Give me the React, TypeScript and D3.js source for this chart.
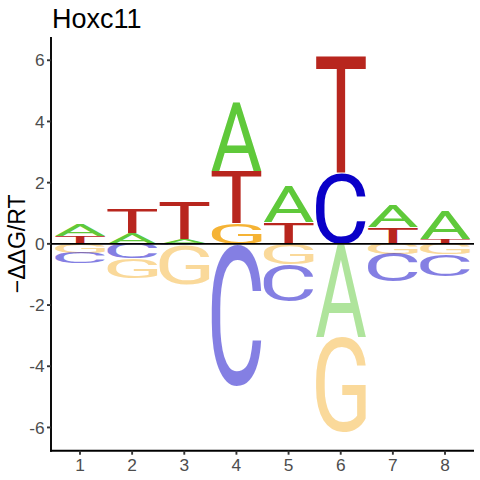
import React, { useEffect, useMemo, useState } from 'react';
import * as d3 from 'd3';

// ---- data ----
const positions = [1, 2, 3, 4, 5, 6, 7, 8];
const letters = ['A', 'C', 'G', 'T'];
const valA = [0.40, 0.35, 0.15, 2.28, 1.16, -3.06, 0.75, 0.93];
const valC = [-0.35, -0.47, -0.04, -4.64, -1.21, 2.31, -0.91, -0.73];
const valG = [-0.29, -0.64, -1.30, 0.67, -0.66, -3.10, -0.33, -0.33];
const valT = [0.24, 0.77, 1.21, 1.68, 0.70, 3.83, 0.53, 0.16];
const yTicks = [-6, -4, -2, 0, 2, 4, 6];
const xTickLabels = ['1', '2', '3', '4', '5', '6', '7', '8'];
const title = 'Hoxc11';
const yLabel = '\u2212\u0394\u0394G/RT';

const colors: Record<string, string> = {
  A: '#5FC93A',
  C: '#0A00C8',
  G: '#F5B335',
  T: '#B8261E',
};

const W = 480;
const H = 480;
const panel = { left: 51, right: 474, top: 37, bottom: 450.7 };
const LETTER_FAMILY = 'Roboto';
const LETTER_WEIGHT = 400;
const LETTER_SIZE = 200;
const AXIS_FONT = '"Liberation Sans", Arial, sans-serif';

type Box = { l: number; r: number; a: number; d: number };

function measureLetters(): Record<string, Box> {
  const out: Record<string, Box> = {};
  const canvas = document.createElement('canvas');
  const ctx = canvas.getContext('2d');
  for (const L of letters) {
    if (ctx) {
      ctx.font = `${LETTER_WEIGHT} ${LETTER_SIZE}px ${LETTER_FAMILY}`;
      const m = ctx.measureText(L);
      out[L] = {
        l: m.actualBoundingBoxLeft,
        r: m.actualBoundingBoxRight,
        a: m.actualBoundingBoxAscent,
        d: m.actualBoundingBoxDescent,
      };
    } else {
      out[L] = { l: 0, r: 0.65 * LETTER_SIZE, a: 0.71 * LETTER_SIZE, d: 0 };
    }
  }
  return out;
}

export default function App() {
  const [fontTick, setFontTick] = useState(0);
  useEffect(() => {
    const f: any = (document as any).fonts;
    if (f && f.load) {
      f.load(`${LETTER_WEIGHT} ${LETTER_SIZE}px ${LETTER_FAMILY}`).then(() => setFontTick((t) => t + 1));
    }
  }, []);
  const boxes = useMemo(() => measureLetters(), [fontTick]);

  const x = d3.scaleLinear().domain([0.444, 8.556]).range([panel.left, panel.right]);
  const y = d3.scaleLinear().domain([-6.76, 6.76]).range([panel.bottom, panel.top]);

  const series: Record<string, number[]> = { A: valA, C: valC, G: valG, T: valT };

  const glyphs: { key: string; L: string; x0: number; x1: number; y0: number; y1: number; neg: boolean }[] = [];
  positions.forEach((p, i) => {
    const entries = letters.map((L) => ({ L, v: series[L][i] }));
    const pos = entries.filter((e) => e.v > 0).sort((a, b) => a.v - b.v);
    const neg = entries.filter((e) => e.v < 0).sort((a, b) => b.v - a.v);
    let acc = 0;
    pos.forEach((e) => {
      glyphs.push({ key: `p${p}${e.L}`, L: e.L, x0: x(p - 0.48), x1: x(p + 0.48), y0: y(acc + e.v), y1: y(acc), neg: false });
      acc += e.v;
    });
    acc = 0;
    neg.forEach((e) => {
      glyphs.push({ key: `n${p}${e.L}`, L: e.L, x0: x(p - 0.48), x1: x(p + 0.48), y0: y(acc), y1: y(acc + e.v), neg: true });
      acc += e.v;
    });
  });

  const midY = (panel.top + panel.bottom) / 2;

  return (
    <svg width={W} height={H} style={{ position: 'absolute', left: 0, top: 0, background: '#fff' }}>
      <rect x={0} y={0} width={W} height={H} fill="#fff" />
      {glyphs.map((g) => {
        const b = boxes[g.L];
        const w = g.x1 - g.x0;
        const h = g.y1 - g.y0;
        if (h <= 0.01) return null;
        const sx = w / (b.l + b.r);
        const sy = h / (b.a + b.d);
        const tx = g.x0 + b.l * sx;
        const ty = g.y0 + b.a * sy;
        return (
          <text
            key={g.key}
            x={0}
            y={0}
            fontFamily={LETTER_FAMILY}
            fontWeight={LETTER_WEIGHT}
            fontSize={LETTER_SIZE}
            fill={colors[g.L]}
            fillOpacity={g.neg ? 0.5 : 1}
            transform={`translate(${tx},${ty}) scale(${sx},${sy})`}
          >
            {g.L}
          </text>
        );
      })}
      {/* zero line */}
      <line x1={panel.left} x2={panel.right} y1={y(0)} y2={y(0)} stroke="#000" strokeWidth={1.6} />
      {/* axes */}
      <line x1={panel.left} x2={panel.left} y1={panel.top} y2={panel.bottom + 1} stroke="#000" strokeWidth={1.9} />
      <line x1={panel.left - 1} x2={panel.right} y1={panel.bottom} y2={panel.bottom} stroke="#000" strokeWidth={1.9} />
      {yTicks.map((t) => (
        <g key={`y${t}`}>
          <line x1={panel.left - 4} x2={panel.left} y1={y(t)} y2={y(t)} stroke="#333" strokeWidth={1.9} />
          <text x={panel.left - 6.5} y={y(t) + 6.2} textAnchor="end" fontFamily={AXIS_FONT} fontSize={17.3} fill="#4D4D4D">
            {t < 0 ? `-${Math.abs(t)}` : `${t}`}
          </text>
        </g>
      ))}
      {positions.map((p, i) => (
        <g key={`x${p}`}>
          <line x1={x(p)} x2={x(p)} y1={panel.bottom} y2={panel.bottom + 4} stroke="#333" strokeWidth={1.9} />
          <text x={x(p)} y={470.5} textAnchor="middle" fontFamily={AXIS_FONT} fontSize={17.3} fill="#4D4D4D">
            {xTickLabels[i]}
          </text>
        </g>
      ))}
      <text x={52} y={27.5} fontFamily={AXIS_FONT} fontSize={27} fill="#000">
        {title}
      </text>
      <text
        x={25.5}
        y={midY}
        textAnchor="middle"
        fontFamily={AXIS_FONT}
        fontSize={23}
        fill="#000"
        transform={`rotate(-90, 25.5, ${midY})`}
      >
        {yLabel}
      </text>
    </svg>
  );
}
